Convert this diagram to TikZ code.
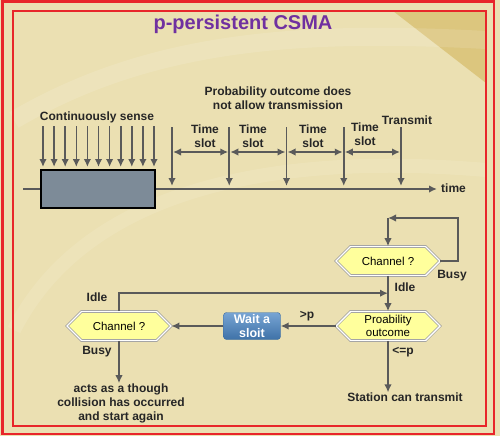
\documentclass[tikz,border=0pt]{standalone}
\usepackage{fontspec}
\setmainfont{Liberation Sans}
\usetikzlibrary{shapes.symbols,positioning,arrows.meta}
\definecolor{bgbeige}{HTML}{EBE0B2}
\definecolor{bgdark}{HTML}{DCC67E}
\definecolor{framered}{HTML}{E8262A}
\definecolor{titlepurple}{HTML}{7030A0}
\definecolor{arrowgray}{HTML}{5A5A5A}
\definecolor{boxgray}{HTML}{7D8B98}
\definecolor{hexyellow}{HTML}{FFFF9C}
\definecolor{waitblue}{HTML}{4A86C5}

\begin{document}
\begin{tikzpicture}[x=1pt, y=-1pt]
	\tikzstyle{arrow}=[draw, -{Latex[length=8pt,width=7.5pt]}, arrowgray, line width=1.6pt]
	\tikzstyle{lbl}=[font=\fontsize{12}{14}\selectfont\bfseries, text=black!85, align=center, inner sep=0pt]
	\tikzstyle{hex}=[signal, signal to=west and east, draw=gray!80, double=white, double distance=1.4pt, line width=0.6pt, fill=hexyellow, minimum width=104pt, minimum height=29pt, inner sep=0pt, font=\fontsize{11.5}{12.5}\selectfont, align=center]
	\tikzstyle{waitbox}=[rectangle, rounded corners=3pt, draw=waitblue!80!black, top color=waitblue!75!white, bottom color=waitblue!85!black, minimum width=57pt, minimum height=27pt, inner sep=0pt, text=white, font=\fontsize{12.5}{13.5}\selectfont\bfseries, align=center]
	\newcommand\Ytime{189}
	\newcommand\Ytop{127}
	\newcommand\Yslot{152}

	\useasboundingbox (0,0) rectangle (500,436);
	\fill [bgbeige] (0,0) rectangle (500,436);
	\fill [bgdark] (393,11) -- (486,83) -- (486,11) -- cycle;
	\draw [white, opacity=0.12, line width=18pt] (14,120) .. controls (150,40) and (300,30) .. (486,40);
	\draw [white, opacity=0.1, line width=14pt] (14,330) .. controls (80,200) and (250,150) .. (486,170);
	\draw [framered, line width=2.5pt] (2.5,1.5) rectangle (494,434);
	\draw [framered, line width=2.5pt] (13,11) rectangle (486,426);

	\node [font=\fontsize{20}{22}\selectfont\bfseries, text=titlepurple] (title) at (243,24) {p-persistent CSMA};

	% time line
	\coordinate (T0) at (23,\Ytime);
	\coordinate (T1) at (437,\Ytime);
	\path [arrow] (T0) -- (T1);
	\node [lbl, anchor=west] (time) at (441,188) {time};
	\node [draw=black, line width=2pt, fill=boxgray, minimum width=114pt, minimum height=38pt, inner sep=0pt] (sense) at (98,\Ytime) {};

\foreach \i in {0,...,10}
{
	\pgfmathsetmacro{\XS}{43 + \i * 11.1};
	\coordinate (S\i) at (\XS,126);
	\path [arrow, shorten >=2pt] (S\i) -- (S\i |- sense.north);
}
\foreach \i in {0,...,4}
{
	\pgfmathsetmacro{\XT}{172 + \i * 57.25};
	\coordinate (P\i) at (\XT,\Ytop);
	\coordinate (M\i) at (\XT,\Yslot);
	\path [arrow, shorten >=3pt] (P\i) -- (P\i |- T0);
}
\foreach \i in {0,...,3}
{
	\pgfmathtruncatemacro{\next}{\i + 1};
	\path [arrow, {Latex[length=8pt,width=7.5pt]}-{Latex[length=8pt,width=7.5pt]}, shorten <=1pt, shorten >=1pt] (M\i) -- (M\next);
}

	\node [lbl] (cs) at (97,117) {Continuously sense};
	\node [lbl] (nt) at (278,98) {Probability outcome does\\not allow transmission};
	\node [lbl] (ts1) at (205,136) {Time\\slot};
	\node [lbl] (ts2) at (253,136) {Time\\slot};
	\node [lbl] (ts3) at (313,136) {Time\\slot};
	\node [lbl] (ts4) at (365,134) {Time\\slot};
	\node [lbl] (tx) at (407,120) {Transmit};

	% flow chart
	\node [hex] (ch1) at (388,261) {Channel ?};
	\node [hex] (po) at (388,326) {Proability\\outcome};
	\node [hex] (ch2) at (119,326) {Channel ?};
	\node [waitbox] (wait) at (252,326) {Wait a\\sloit};
	\node [lbl] (station) at (405,397) {Station can transmit};
	\node [lbl] (acts) at (121,403) {acts as a though\\collision has occurred\\and start again};

	\coordinate (L1) at (458,218);
	\coordinate (L0) at (ch1.north |- L1);
	\path [arrow] (ch1.east) -- (ch1.east -| L1) -- (L1) -- (L0);
	\path [arrow] (L0) -- (ch1.north);
	\path [arrow] (ch1.south) -- (po.north);
	\path [arrow] (po.south) -- (po.south |- station.north);
	\path [arrow] (po.west) -- (wait.east);
	\path [arrow] (wait.west) -- (ch2.east);
	\path (ch2.north) ++(0,-18) coordinate (I1);
	\path [arrow] (ch2.north) -- (I1) -- (I1 -| ch1.south);
	\path [arrow] (ch2.south) -- (ch2.south |- acts.north);

	\node [lbl] (busy1) at (452,276) {Busy};
	\node [lbl] (idle1) at (405,287) {Idle};
	\node [lbl] (lep) at (403,352) {<=p};
	\node [lbl] (gtp) at (307,316) {>p};
	\node [lbl] (idle2) at (97,297) {Idle};
	\node [lbl] (busy2) at (97,352) {Busy};

\end{tikzpicture}
\end{document}
